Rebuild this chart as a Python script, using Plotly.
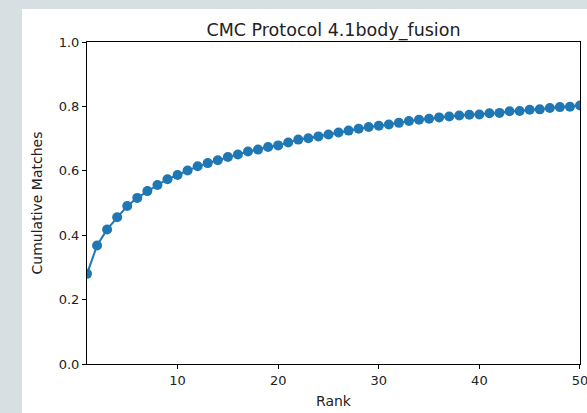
import plotly.graph_objects as go

ranks = list(range(1, 51))
cumulative_matches = [
    0.280, 0.368, 0.418, 0.456, 0.491, 0.516, 0.537, 0.556, 0.574, 0.587,
    0.601, 0.614, 0.624, 0.633, 0.643, 0.651, 0.660, 0.666, 0.674, 0.679,
    0.688, 0.697, 0.701, 0.707, 0.713, 0.719, 0.725, 0.731, 0.736, 0.740,
    0.744, 0.749, 0.755, 0.759, 0.762, 0.766, 0.769, 0.772, 0.774, 0.775,
    0.779, 0.780, 0.785, 0.786, 0.790, 0.791, 0.795, 0.798, 0.799, 0.803,
]
title_text = "CMC Protocol 4.1body_fusion"
x_title = "Rank"
y_title = "Cumulative Matches"
x_ticks = [10, 20, 30, 40, 50]
y_ticks = [0.0, 0.2, 0.4, 0.6, 0.8, 1.0]

FONT = "DejaVu Sans"
BLUE = "#1f77b4"

fig = go.Figure()
fig.add_trace(go.Scatter(
    x=ranks, y=cumulative_matches, mode="lines+markers",
    line=dict(color=BLUE, width=2),
    marker=dict(color=BLUE, size=10),
    cliponaxis=True, showlegend=False,
))

L, R, T, B = 87, 7, 42, 49
W, H = 587, 413
pw, ph = W - L - R, H - T - B

# white card over grey page background
fig.add_shape(type="rect", xref="paper", yref="paper", layer="below",
              x0=(22 - L) / pw, x1=(W - L + 5) / pw,
              y0=-(B + 5) / ph, y1=(H - B - 9) / ph,
              fillcolor="white", line=dict(width=0))

fig.update_layout(
    width=W, height=H,
    margin=dict(l=L, r=R, t=T, b=B, pad=0, autoexpand=False),
    paper_bgcolor="#d7dfe2", plot_bgcolor="white",
    font=dict(family=FONT, size=13, color="#222222"),
    title=dict(text=title_text, x=0.5, xanchor="center", xref="paper",
               y=1, yref="paper", yanchor="bottom", pad=dict(b=6),
               font=dict(size=17.5, color="#222222")),
    xaxis=dict(range=[1, 50.0005], tickvals=x_ticks, ticks="outside", ticklen=4,
               tickcolor="black", showline=True, linecolor="black", linewidth=1,
               mirror=True, showgrid=False, zeroline=False, automargin=False,
               ticklabeloverflow="allow",
               title=dict(text=x_title, standoff=9, font=dict(size=14))),
    yaxis=dict(range=[0, 1.0002], tickvals=y_ticks, tickformat=".1f", ticks="outside",
               ticklen=4, tickcolor="black", showline=True, linecolor="black",
               linewidth=1, mirror=True, showgrid=False, zeroline=False,
               automargin=False, ticklabeloverflow="allow",
               title=dict(text=y_title, standoff=12, font=dict(size=14))),
)

fig.write_html("out.html")
